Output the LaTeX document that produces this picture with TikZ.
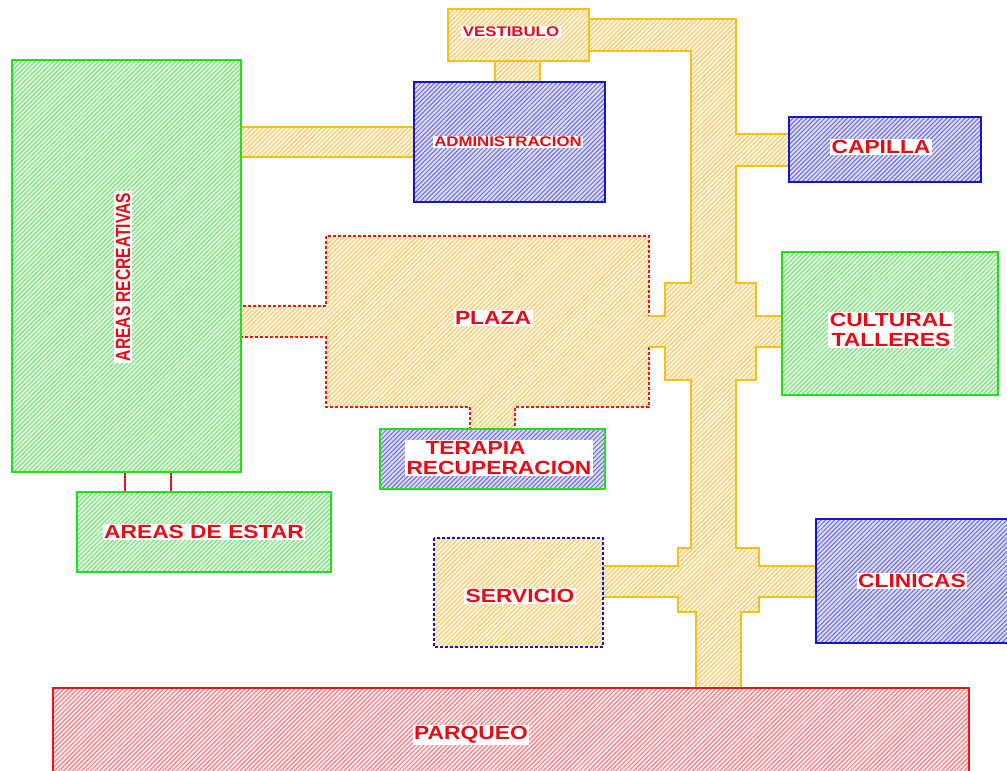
\documentclass[tikz,border=0pt]{standalone}
\usepackage{fontspec}
\usetikzlibrary{patterns.meta}
\newfontfamily\widesans[FakeStretch=1.2]{Liberation Sans}
\newfontfamily\narrowsans[FakeStretch=0.76]{Liberation Sans}
\definecolor{gb}{RGB}{30,225,30}
\definecolor{gbg}{RGB}{218,246,218}
\definecolor{gln}{RGB}{130,220,130}
\definecolor{bb}{RGB}{20,20,210}
\definecolor{bbg}{RGB}{218,218,246}
\definecolor{bln}{RGB}{110,110,210}
\definecolor{yb}{RGB}{250,190,20}
\definecolor{ybg}{RGB}{253,242,214}
\definecolor{yln}{RGB}{240,205,120}
\definecolor{rb}{RGB}{240,20,20}
\definecolor{rbg}{RGB}{253,226,226}
\definecolor{rln}{RGB}{228,130,140}
\definecolor{txt}{RGB}{232,10,20}

\begin{document}
\begin{tikzpicture}[x=1pt, y=-1pt, line width=1.4pt,
hatch/.style = {preaction={fill=#1bg}, pattern={Lines[angle=45,distance=3.2pt,line width=1pt]}, pattern color=#1ln},
lbl/.style = {fill=white, inner sep=1.5pt, text=txt, align=center, font=\widesans\bfseries\fontsize{19}{20.5}\selectfont},
small lbl/.style = {lbl, font=\widesans\bfseries\fontsize{14}{16}\selectfont}]
\useasboundingbox (0,0) rectangle (1007,771);

% pasillos
\draw[hatch=y, draw=yb] (241,127) rectangle (414,157);
\draw[hatch=y, draw=yb] (495,61) rectangle (540,82);
\draw[hatch=y, draw=rb, densely dashed] (649,347) -- (649,407) -- (515,407) -- (515,429) -- (470,429) -- (470,407) -- (326,407) -- (326,337) -- (241,337) -- (241,306) -- (326,306) -- (326,236) -- (649,236) -- (649,316);
\draw[hatch=y, draw=yb] (649,316) -- (665,316) -- (665,283) -- (691,283) -- (691,51) -- (589,51) -- (589,19) -- (736,19) -- (736,134) -- (789,134) -- (789,166) -- (736,166) -- (736,283) -- (756,283) -- (756,316) -- (782,316) -- (782,347) -- (756,347) -- (756,380) -- (736,380) -- (736,548) -- (759,548) -- (759,566) -- (816,566) -- (816,597) -- (759,597) -- (759,612) -- (741,612) -- (741,688) -- (696,688) -- (696,612) -- (678,612) -- (678,597) -- (603,597) -- (603,566) -- (678,566) -- (678,548) -- (691,548) -- (691,380) -- (665,380) -- (665,347) -- (649,347);
\draw[rb] (125,472) -- (125,492);
\draw[rb] (171,472) -- (171,492);

% zonas
\draw[hatch=g, draw=gb] (12,60) rectangle (241,472);
\draw[hatch=g, draw=gb] (77,492) rectangle (331,572);
\draw[hatch=y, draw=yb] (448,9) rectangle (589,61);
\draw[hatch=b, draw=bb] (414,82) rectangle (605,202);
\draw[hatch=b, draw=bb] (789,117) rectangle (981,182);
\draw[hatch=g, draw=gb] (782,252) rectangle (998,395);
\draw[hatch=b, draw=gb] (380,429) rectangle (605,489);
\draw[hatch=y, draw=bb, densely dashed] (434,538) rectangle (603,647);
\draw[hatch=b, draw=bb] (816,519) rectangle (1015,643);
\draw[hatch=r, draw=rb] (53,688) rectangle (969,780);

\node[small lbl] (vestT) at (511,32) {VESTIBULO};
\node[small lbl] (adminT) at (508,142) {ADMINISTRACION};
\node[lbl] (capT) at (881,147) {CAPILLA};
\node[lbl, rotate=90, font=\narrowsans\bfseries\fontsize{20.5}{22}\selectfont] (recreT) at (123,277) {AREAS RECREATIVAS};
\node[lbl] (plazaT) at (493,318) {PLAZA};
\node[lbl] (cultT) at (891,330) {CULTURAL\\TALLERES};
\node[lbl, align=left] (terT) at (499,458) {\hspace*{19pt}TERAPIA\\RECUPERACION};
\node[lbl] (estarT) at (204,532) {AREAS DE ESTAR};
\node[lbl] (servT) at (520,596) {SERVICIO};
\node[lbl] (clinT) at (912,581) {CLINICAS};
\node[lbl] (parqT) at (471,735) {PARQUEO};
\end{tikzpicture}
\end{document}
